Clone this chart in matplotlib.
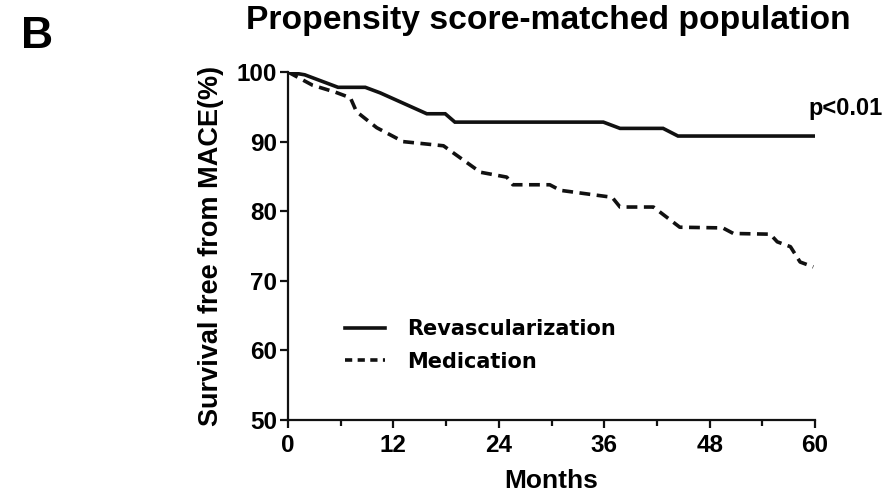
import matplotlib
matplotlib.use("Agg")
import matplotlib.pyplot as plt
from matplotlib.lines import Line2D
from matplotlib.ticker import MultipleLocator

plt.rcParams['font.family'] = ['Liberation Sans', 'DejaVu Sans']
plt.rcParams['font.weight'] = 'bold'

# Revascularization curve
revasc_months = [0, 1.9, 5.7, 8.8, 10.5, 15.8, 17.9, 19.0, 35.9, 37.8, 42.7, 44.4, 60.0]
revasc_surv   = [100, 99.6, 97.8, 97.8, 97.0, 94.0, 94.0, 92.8, 92.8, 91.9, 91.9, 90.8, 90.8]

# Medication curve
med_months = [0, 2.8, 5.4, 7.1, 7.8, 10.1, 13.1, 17.7, 18.8, 21.9, 24.9, 25.6, 29.8, 31.0,
              36.9, 37.8, 41.6, 44.6, 49.5, 50.7, 54.9, 55.7, 57.2, 58.3, 59.8]
med_surv   = [100, 98.1, 97.1, 96.3, 94.3, 92.0, 90.0, 89.4, 88.4, 85.6, 84.9, 83.8, 83.8, 83.0,
              82.0, 80.6, 80.6, 77.7, 77.6, 76.8, 76.7, 75.6, 74.9, 72.7, 72.0]

x_ticks = [0, 12, 24, 36, 48, 60]
y_ticks = [50, 60, 70, 80, 90, 100]
series_labels = ["Revascularization", "Medication"]

fig = plt.figure(figsize=(8.93, 4.99), dpi=100)
ax = fig.add_axes([0.3225, 0.1583, 0.5902, 0.6974])

ax.plot(revasc_months, revasc_surv, color='#111111', lw=2.6, solid_joinstyle='miter')
ax.plot(med_months, med_surv, color='#111111', lw=2.6, dashes=(3.0, 1.8))

ax.set_xlim(0, 60)
ax.set_ylim(50, 100)
ax.set_xticks(x_ticks)
ax.set_yticks(y_ticks)
ax.xaxis.set_minor_locator(MultipleLocator(6))
for s in ['top', 'right']:
    ax.spines[s].set_visible(False)
for s in ['left', 'bottom']:
    ax.spines[s].set_linewidth(1.6)
    ax.spines[s].set_color('#111111')
ax.tick_params(axis='both', which='major', length=6, width=1.6, labelsize=17.5, color='#111111', pad=2)
ax.tick_params(axis='x', which='major', pad=4)
ax.tick_params(axis='x', which='minor', length=4, width=1.6, color='#111111')
for lab in ax.get_xticklabels() + ax.get_yticklabels():
    lab.set_fontweight('bold')
ax.set_xlabel("Months", fontsize=19, fontweight='bold', labelpad=9)
ax.set_ylabel("Survival free from MACE(%)", fontsize=19.5, fontweight='bold', labelpad=9)

handles = [Line2D([], [], color='#111111', lw=2.6),
           Line2D([], [], color='#111111', lw=2.6, dashes=(2.0, 1.5))]
leg = ax.legend(handles, series_labels, loc='upper left', bbox_to_anchor=(0.108, 0.29),
                frameon=False, handlelength=1.92, handletextpad=1.06,
                labelspacing=0.6, borderpad=0, borderaxespad=0,
                prop={'family': 'DejaVu Sans', 'weight': 'bold', 'size': 15})

ax.text(59.2, 93.8, "p<0.01", fontsize=17, fontweight='bold', ha='left', va='baseline', clip_on=False)

fig.text(548 / 893, 1 - 29 / 499, "Propensity score-matched population", fontsize=24.2,
         fontweight='bold', ha='center', va='baseline')
fig.text(0.023, 1 - 48 / 499, "B", fontsize=32, fontweight='bold', ha='left', va='baseline')

fig.savefig("out.png", dpi=100)
